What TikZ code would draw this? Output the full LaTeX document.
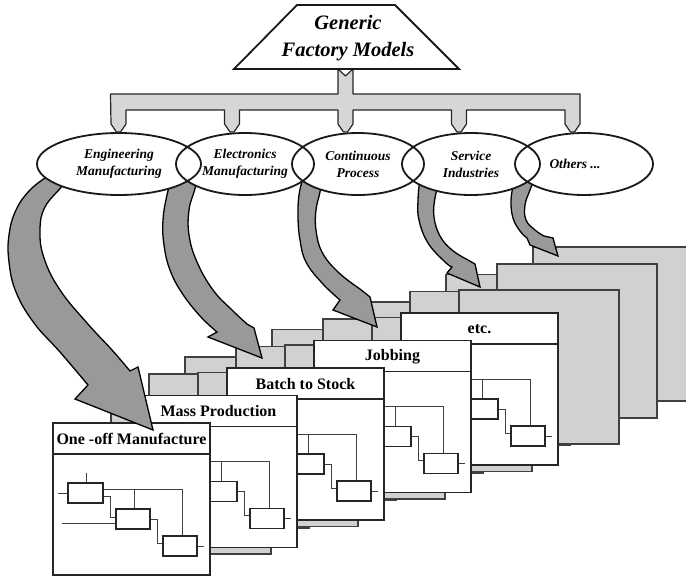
\documentclass[tikz,border=0pt]{standalone}
\usepackage{fontspec}
\setmainfont{Liberation Serif}
\usetikzlibrary{shapes.geometric}

\tikzset{
  card/.style={draw=black!85,line width=1.7pt,fill=white},
  greycard/.style={draw=black!75,line width=1.1pt,fill=black!18},
  pipe/.style={draw=black!85,line width=1.2pt,fill=black!16,line join=round},
  fatarrow/.style={draw=black,line width=1.3pt,fill=black!40,line join=miter},
  cat/.style={ellipse,draw=black!90,line width=1.8pt,inner sep=0pt,minimum height=62pt,align=center,
    font=\fontsize{13.5}{17}\selectfont\bfseries\itshape},
  cardtitle/.style={font=\fontsize{16}{18}\selectfont\bfseries,inner sep=0pt},
  flowbox/.style={draw=black!85,line width=1.2pt,fill=white},
  flowline/.style={draw=black!75,line width=0.9pt},
}

\begin{document}
\begin{tikzpicture}[x=1pt,y=-1pt]
\clip (0,0) rectangle (686,576);

% grey layers behind the front row
\foreach \dx/\dy in {132/-66,96/-49,58/-23}{
  \foreach \k in {4,3,2,1,0}{
    \filldraw[greycard] ({53+87*\k+\dx},{423-27.5*\k+\dy}) rectangle ++(160,154);
  }
}

% front row of model sheets
\foreach \k/\t in {4/etc.,3/Jobbing,2/Batch to Stock,1/Mass Production,0/One -off Manufacture}{
  \begin{scope}[shift={({53+87*\k},{423-27.5*\k})}]
    \filldraw[card] (0,0) rectangle (157,152);
    \draw[draw=black!85,line width=1.7pt] (0,31) -- (157,31);
    \node[cardtitle] (title\k) at (78.5,16) {\t};
    \draw[flowline] (33,50)--(33,60) (5,70)--(15,70) (50,66)--(129,66)--(129,113) (81,66)--(81,86)
      (50,73)--(57,73)--(57,94)--(63,94) (9,100)--(63,100)
      (97,96)--(104,96)--(104,120)--(110,120) (144,123)--(151,123);
    \filldraw[flowbox] (15,60) rectangle (50,80) (63,86) rectangle (97,106) (110,113) rectangle (144,133);
  \end{scope}
}

% curved arrows
\filldraw[fatarrow] plot[smooth,tension=.7] coordinates {(48,176) (30,190) (16,210) (9,235) (9,262) (16,292) (34,323) (60,352) (88,385)}
  -- (75,399) -- (153,430) -- (138,367)
  -- plot[smooth,tension=.7] coordinates {(130,371) (112,350) (87,323) (60,290) (44,258) (40,230) (45,207) (62,186) (64,178)} -- cycle;
\filldraw[fatarrow] plot[smooth,tension=.7] coordinates {(172,178) (167,195) (163,220) (164,245) (170,270) (182,293) (200,316) (217,332)}
  -- (208,337) -- (262,358) -- (254,328)
  -- plot[smooth,tension=.7] coordinates {(247,324) (232,310) (213,290) (197,262) (189,235) (189,210) (194,192) (198,178)} -- cycle;
\filldraw[fatarrow] plot[smooth,tension=.7] coordinates {(303,178) (299,195) (298,217) (300,240) (306,262) (322,283) (340,300)}
  -- (333,310) -- (377,327) -- (370,297)
  -- plot[smooth,tension=.7] coordinates {(360,289) (338,272) (322,252) (316,230) (316,210) (320,192) (322,178)} -- cycle;
\filldraw[fatarrow] plot[smooth,tension=.7] coordinates {(420,178) (418,200) (419,220) (428,243) (445,262) (452,267)}
  -- (447,273) -- (480,287) -- (475,264)
  -- plot[smooth,tension=.7] coordinates {(468,260) (452,250) (440,236) (434,217) (435,198) (440,180)} -- cycle;
\filldraw[fatarrow] plot[smooth,tension=.7] coordinates {(514,182) (511,200) (513,218) (520,231) (527,238)}
  -- (530,245) -- (558,256) -- (553,238)
  -- plot[smooth,tension=.7] coordinates {(544,236) (535,230) (526,220) (525,205) (530,190) (534,180)} -- cycle;

% model categories
\foreach \x/\w in {119/164,245/138,358/132,471/138,584/138}
  \fill[white] (\x,164) ellipse [x radius=\w/2, y radius=31];
\node[cat,minimum width=164pt] (eng) at (119,164) {Engineering\\Manufacturing};
\node[cat,minimum width=138pt] (ele) at (245,164) {Electronics\\Manufacturing};
\node[cat,minimum width=132pt] (con) at (358,164) {Continuous\\Process};
\node[cat,minimum width=138pt] (svc) at (471,164) {Service\\Industries};
\node[cat,minimum width=138pt] (oth) at (584,164) {Others ...\hspace*{18pt}};

% distribution pipe
\filldraw[pipe] (110.5,94) -- (338,94) -- (338,69) -- (345.5,76) -- (353,69) -- (353,94) -- (580,94)
  -- (580,124) -- (574.5,132) -- (570.5,132) -- (565,124) -- (565,110)
  \foreach \c in {459,345.5,232}{ -- (\c+7.5,110) -- (\c+7.5,124) -- (\c+2,132) -- (\c-2,132) -- (\c-7.5,124) -- (\c-7.5,110) }
  -- (126,110) -- (126,124) -- (120.5,132) -- (116.5,132) -- (111,124) -- cycle;

% generic models
\draw[line width=1.8pt,draw=black!90] (297,5) -- (395,5) -- (459,69) -- (234,69) -- cycle;
\node[font=\fontsize{20.5}{27}\selectfont\bfseries\itshape,align=center] (gfm) at (348,38.5) {Generic\\Factory Models};
\end{tikzpicture}
\end{document}
